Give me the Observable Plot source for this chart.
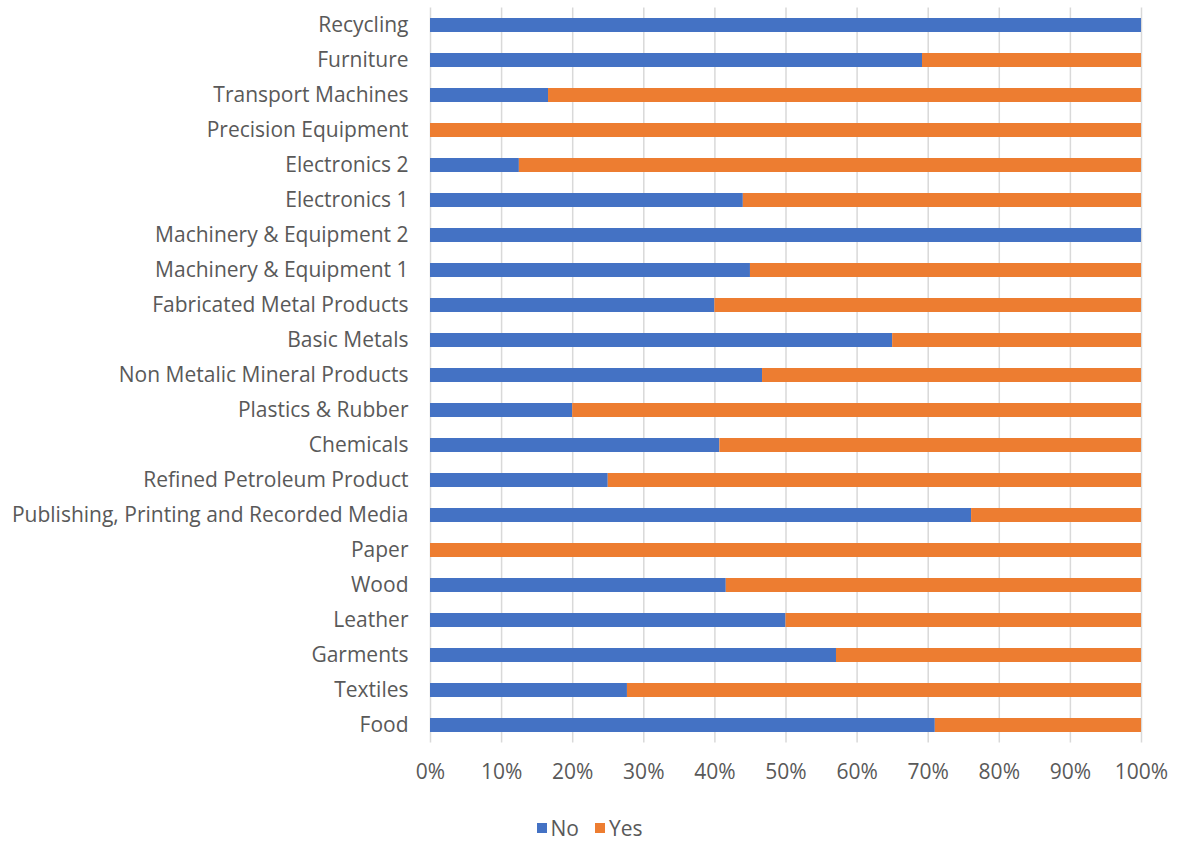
<!DOCTYPE html>
<html>
<head>
<meta charset="utf-8">
<script src="https://cdn.jsdelivr.net/npm/d3@7"></script>
<script src="https://cdn.jsdelivr.net/npm/@observablehq/plot@0.6"></script>
<style>
  html, body { margin: 0; background: #fff; font-family: "Open Sans", sans-serif; overflow: hidden; }
  #legend { display: flex; justify-content: center; align-items: center; gap: 16px; width: 1179px; height: 26px; padding-top: 15px; font-size: 21px; color: #595959; box-sizing: content-box; }
  .item { display: flex; align-items: center; gap: 4px; }
  .sw { width: 10px; height: 10px; display: inline-block; }
</style>
</head>
<body>
<div id="chart"></div>
<div id="legend"></div>
<script>
// Categories, bottom to top as drawn
const categories = ["Food", "Textiles", "Garments", "Leather", "Wood", "Paper",
  "Publishing, Printing and Recorded Media", "Refined Petroleum Product", "Chemicals",
  "Plastics & Rubber", "Non Metalic Mineral Products", "Basic Metals",
  "Fabricated Metal Products", "Machinery & Equipment 1", "Machinery & Equipment 2",
  "Electronics 1", "Electronics 2", "Precision Equipment", "Transport Machines",
  "Furniture", "Recycling"];
const noValues  = [71.0, 27.7, 57.1, 50.0, 41.6, 0, 76.1, 25.0, 40.7, 20.0, 46.7, 65.0, 40.0, 45.0, 100, 44.0, 12.5, 0, 16.6, 69.2, 100];
const yesValues = [29.0, 72.3, 42.9, 50.0, 58.4, 100, 23.9, 75.0, 59.3, 80.0, 53.3, 35.0, 60.0, 55.0, 0, 56.0, 87.5, 100, 83.4, 30.8, 0];
const seriesNames = ["No", "Yes"];
const seriesColors = ["#4472C4", "#ED7D31"];
const xTicks = [0, 10, 20, 30, 40, 50, 60, 70, 80, 90, 100];

const rows = [];
categories.forEach((c, i) => rows.push({category: c, series: "No", value: noValues[i]}));
categories.forEach((c, i) => rows.push({category: c, series: "Yes", value: yesValues[i]}));

const chart = Plot.plot({
  width: 1179,
  height: 800,
  marginLeft: 430,
  marginRight: 38,
  marginTop: 7.5,
  marginBottom: 57.5,
  style: {fontFamily: "'Open Sans', sans-serif", fontSize: "21px", color: "#595959", background: "#fff"},
  x: {domain: [0, 100], ticks: xTicks, tickFormat: d => d + "%", tickSize: 0, tickPadding: 22, label: null},
  y: {domain: categories.slice().reverse(), paddingInner: 0.6, paddingOuter: 0.3, tickSize: 0, tickPadding: 22, label: null},
  color: {domain: seriesNames, range: seriesColors},
  marks: [
    Plot.gridX(xTicks, {stroke: "#d9d9d9", strokeOpacity: 1, strokeWidth: 1.5}),
    Plot.barX(rows, Plot.stackX({x: "value", y: "category", fill: "series", order: seriesNames})),
    Plot.axisX({ticks: xTicks, tickFormat: d => d + "%", tickSize: 0, tickPadding: 21, fill: "#595959", fontSize: 21}),
    Plot.axisY({tickSize: 0, tickPadding: 22, fill: "#595959", fontSize: 21})
  ]
});
document.getElementById("chart").appendChild(chart);

const legend = document.getElementById("legend");
seriesNames.forEach((s, i) => {
  const item = document.createElement("span");
  item.className = "item";
  item.innerHTML = `<span class="sw" style="background:${seriesColors[i]}"></span><span>${s}</span>`;
  legend.appendChild(item);
});
</script>
</body>
</html>
